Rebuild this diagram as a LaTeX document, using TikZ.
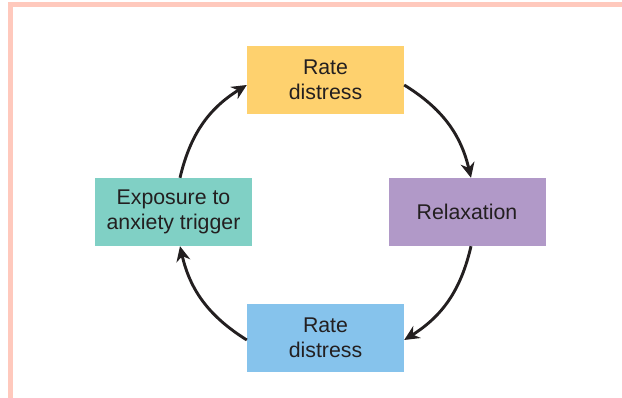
\documentclass[tikz,border=0pt]{standalone}
\usepackage{fontspec}
\setmainfont{Liberation Sans}
\usetikzlibrary{arrows.meta}
\definecolor{boxyellow}{HTML}{FED16E}
\definecolor{boxpurple}{HTML}{B199C8}
\definecolor{boxblue}{HTML}{86C3EC}
\definecolor{boxteal}{HTML}{80D0C5}
\definecolor{txt}{HTML}{231F20}
\definecolor{frame}{HTML}{FFC9BD}
\tikzset{
  stepbox/.style={minimum width=157pt, minimum height=68pt, inner sep=0pt,
    align=center, text=txt, font=\fontsize{21.3pt}{25pt}\selectfont},
  cyc/.style={line width=2.9pt, draw=txt, -{Stealth[length=15pt,width=14pt]}, bend left=22.5}
}
\begin{document}
\begin{tikzpicture}[x=1pt,y=1pt]
\useasboundingbox (0,0) rectangle (622,398);
\fill[frame] (8,395.5) rectangle (622,390.7);
\fill[frame] (8,395.5) rectangle (12.7,0);
\node[stepbox, fill=boxyellow] (top) at (325.5,318) {Rate\\distress};
\node[stepbox, fill=boxpurple] (right) at (467,186) {Relaxation};
\node[stepbox, fill=boxblue] (bottom) at (325.5,60) {Rate\\distress};
\node[stepbox, fill=boxteal] (left) at (173.5,186) {Exposure to\\anxiety trigger};
\draw[cyc] ([yshift=-5pt]top.east) to ([xshift=4pt]right.north);
\draw[cyc] ([xshift=4pt]right.south) to ([yshift=-2pt]bottom.east);
\draw[cyc] ([yshift=-2pt]bottom.west) to ([xshift=6.5pt]left.south);
\draw[cyc] ([xshift=6.5pt]left.north) to ([yshift=-5pt]top.west);
\end{tikzpicture}
\end{document}
